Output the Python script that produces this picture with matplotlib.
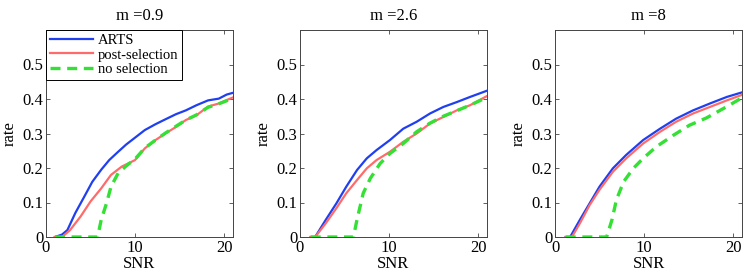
import matplotlib
matplotlib.use("Agg")
import matplotlib.pyplot as plt
from matplotlib.ticker import FuncFormatter

plt.rcParams['font.family'] = ['Liberation Serif', 'DejaVu Serif']

titles = ["m =0.9", "m =2.6", "m =8"]
labels = ["ARTS", "post-selection", "no selection"]

# Panel 1 (m = 0.9)
p1_arts_x = [1.0, 1.8, 2.4, 3.3, 4.3, 5.2, 6.2, 7.1, 8.1, 9.0, 10.0, 11.1, 12.3, 13.4, 14.6, 15.7, 16.9, 18.2, 19.4, 20.3, 21.3]
p1_arts_y = [0.0, 0.007, 0.02, 0.07, 0.117, 0.16, 0.195, 0.223, 0.247, 0.268, 0.288, 0.31, 0.327, 0.341, 0.356, 0.367, 0.382, 0.396, 0.401, 0.413, 0.42]
p1_post_x = [1.0, 1.8, 2.7, 3.9, 5.0, 6.2, 7.3, 8.5, 10.0, 11.1, 12.3, 13.4, 14.6, 15.7, 16.9, 18.2, 19.4, 21.3]
p1_post_y = [0.0, 0.0, 0.02, 0.06, 0.103, 0.141, 0.18, 0.204, 0.223, 0.257, 0.281, 0.3, 0.319, 0.339, 0.353, 0.378, 0.387, 0.408]
p1_none_x = [1.0, 5.8, 6.2, 6.8, 7.3, 8.1, 9.0, 10.0, 11.1, 12.3, 13.4, 14.6, 15.7, 16.9, 18.2, 19.4, 21.3]
p1_none_y = [0.0, 0.0, 0.05, 0.098, 0.146, 0.185, 0.206, 0.226, 0.258, 0.281, 0.301, 0.321, 0.339, 0.354, 0.376, 0.386, 0.405]

# Panel 2 (m = 2.6)
p2_arts_x = [1.2, 1.7, 2.9, 4.1, 5.2, 6.4, 7.5, 8.6, 10.1, 11.6, 13.1, 14.6, 16.1, 17.6, 19.1, 21.1]
p2_arts_y = [0.0, 0.0, 0.05, 0.098, 0.146, 0.194, 0.228, 0.252, 0.281, 0.314, 0.334, 0.358, 0.377, 0.391, 0.406, 0.425]
p2_post_x = [1.2, 1.7, 2.9, 4.1, 5.2, 6.4, 7.5, 8.6, 10.1, 11.6, 13.1, 14.6, 16.1, 17.6, 19.1, 21.1]
p2_post_y = [0.0, 0.0, 0.04, 0.084, 0.127, 0.165, 0.199, 0.223, 0.247, 0.276, 0.3, 0.329, 0.348, 0.367, 0.382, 0.41]
p2_none_x = [1.2, 6.0, 6.4, 7.1, 7.9, 9.0, 10.1, 11.6, 13.1, 14.6, 16.1, 17.6, 19.1, 21.1]
p2_none_y = [0.0, 0.0, 0.05, 0.127, 0.17, 0.213, 0.242, 0.271, 0.305, 0.33, 0.35, 0.366, 0.382, 0.406]

# Panel 3 (m = 8)
p3_arts_x = [1.2, 1.7, 2.8, 3.9, 5.0, 6.5, 8.0, 9.9, 11.8, 13.6, 15.5, 17.4, 19.3, 21.1]
p3_arts_y = [0.0, 0.0, 0.05, 0.098, 0.146, 0.199, 0.238, 0.281, 0.314, 0.343, 0.367, 0.387, 0.406, 0.42]
p3_post_x = [1.2, 1.9, 2.8, 3.9, 5.0, 6.5, 8.0, 9.9, 11.8, 13.6, 15.5, 17.4, 19.3, 21.1]
p3_post_y = [0.0, 0.0, 0.04, 0.093, 0.137, 0.189, 0.228, 0.271, 0.305, 0.334, 0.358, 0.377, 0.396, 0.413]
p3_none_x = [1.2, 5.8, 6.4, 6.9, 7.7, 8.8, 9.9, 11.4, 13.3, 15.1, 17.0, 19.3, 21.1]
p3_none_y = [0.0, 0.0, 0.05, 0.108, 0.16, 0.199, 0.228, 0.262, 0.295, 0.324, 0.345, 0.378, 0.405]

panels = [
    (p1_arts_x, p1_arts_y, p1_post_x, p1_post_y, p1_none_x, p1_none_y),
    (p2_arts_x, p2_arts_y, p2_post_x, p2_post_y, p2_none_x, p2_none_y),
    (p3_arts_x, p3_arts_y, p3_post_x, p3_post_y, p3_none_x, p3_none_y),
]

xticks = [0, 10, 20]
yticks = [0, 0.1, 0.2, 0.3, 0.4, 0.5]

fig = plt.figure(figsize=(7.47, 2.77), dpi=100)
lefts = [46 / 747, 300 / 747, 555 / 747]
W = 187 / 747
B = 40 / 277
H = 207 / 277

blue = '#1f3ff0'
red = '#ff6b6b'
green = '#33e033'

for i, (ax_x, ax_y, px, py, nx, ny) in enumerate(panels):
    ax = fig.add_axes([lefts[i], B, W, H])
    ax.plot(ax_x, ax_y, color=blue, lw=1.6, label=labels[0])
    ax.plot(px, py, color=red, lw=1.6, label=labels[1])
    ax.plot(nx, ny, color=green, lw=2.4, ls=(0, (3, 2)), label=labels[2])
    ax.set_xlim(0, 21)
    ax.set_ylim(0, 0.6)
    ax.set_xticks(xticks)
    ax.set_yticks(yticks)
    ax.yaxis.set_major_formatter(FuncFormatter(lambda v, p: "0" if abs(v) < 1e-9 else f"{v:g}"))
    ax.tick_params(direction='in', top=True, right=True, labelsize=12, length=3, width=0.6,
                   color='#444444', pad=2)
    for s in ax.spines.values():
        s.set_color('#444444')
        s.set_linewidth(0.7)
    ax.set_title(titles[i], fontsize=12, pad=7)
    ax.set_xlabel("SNR", fontsize=12, labelpad=0)
    ax.set_ylabel("rate", fontsize=12, labelpad=3)
    if i == 0:
        leg = ax.legend(loc='upper left', borderaxespad=0.0, fancybox=False, framealpha=1,
                        edgecolor='black', fontsize=10.5, handlelength=3.0, handletextpad=0.3,
                        borderpad=0.25, labelspacing=0.1)
        leg.get_frame().set_linewidth(0.7)

fig.savefig("out.png", dpi=100)
